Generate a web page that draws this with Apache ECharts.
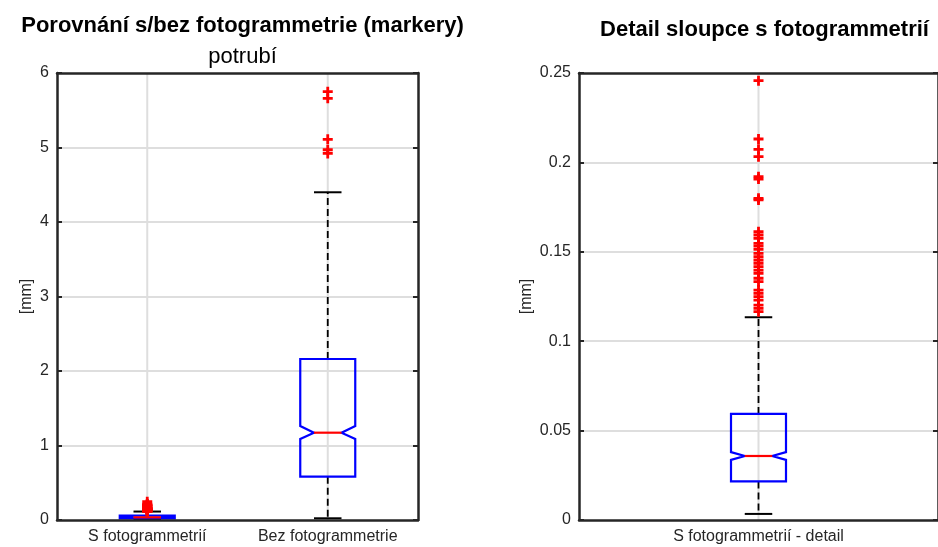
<!DOCTYPE html>
<html>
<head>
<meta charset="utf-8">
<script src="https://cdn.jsdelivr.net/npm/echarts@6/dist/echarts.min.js"></script>
<style>html,body{margin:0;padding:0;background:#fff;}#c{width:938px;height:547px;}</style>
</head>
<body>
<div id="c"></div>
<script>
// ---- data ----
const catsLeft = ['S fotogrammetrií', 'Bez fotogrammetrie'];
const catsRight = ['S fotogrammetrií - detail'];
const leftTicks = [0, 6, 1];          // min, max, interval
const rightTicks = [0, 0.25, 0.05];
// [lowerWhisker, Q1, notchLow, median, notchHigh, Q3, upperWhisker]
const sStats = [0.0034, 0.0216, 0.0336, 0.0358, 0.0380, 0.0593, 0.1134];
const bezStats = [0.023, 0.581, 1.087, 1.172, 1.262, 2.161, 4.399];
const sOutliers = [0.2457, 0.2131, 0.2073, 0.2032, 0.1920, 0.1907, 0.1799, 0.1790,
  0.1612, 0.1594, 0.1575, 0.1547, 0.1532, 0.1514, 0.1491, 0.1473, 0.1454, 0.1436,
  0.1417, 0.1398, 0.1380, 0.1352, 0.1333, 0.1286, 0.1268, 0.1249, 0.1230, 0.1202,
  0.1184, 0.1165];
const bezOutliers = [5.75, 5.66, 5.11, 4.97, 4.92];

// ---- styles ----
const FONT = "'Liberation Sans', Arial, Helvetica, sans-serif";
const DARK = '#262626';
const GRIDC = '#dedede';
const HALF = 27.5;
const PLUS = 'path://M3.6,0H6.4V3.6H10V6.4H6.4V10H3.6V6.4H0V3.6H3.6Z';

function renderBox(params, api) {
  const ci = api.value(0);
  const v = [1,2,3,4,5,6,7].map(i => api.value(i));
  const p = val => api.coord([ci, val]);
  const cx = p(v[3])[0];
  const y = v.map(val => p(val)[1]);
  const cs = params.coordSys;
  const h = HALF;
  const dash = {stroke: '#000', lineWidth: 1.8, lineDash: [7, 4], fill: null};
  const solid = {stroke: '#000', lineWidth: 2, fill: null};
  return {
    type: 'group',
    children: [
      {type: 'line', shape: {x1: cx, y1: cs.y, x2: cx, y2: cs.y + cs.height}, style: {stroke: GRIDC, lineWidth: 2}},
      {type: 'line', shape: {x1: cx, y1: y[5], x2: cx, y2: y[6]}, style: dash},
      {type: 'line', shape: {x1: cx, y1: y[1], x2: cx, y2: y[0]}, style: dash},
      {type: 'line', shape: {x1: cx - h/2, y1: y[6], x2: cx + h/2, y2: y[6]}, style: solid},
      {type: 'line', shape: {x1: cx - h/2, y1: y[0], x2: cx + h/2, y2: y[0]}, style: solid},
      {type: 'polygon', shape: {points: [
        [cx - h, y[1]], [cx - h, y[2]], [cx - h/2, y[3]], [cx - h, y[4]], [cx - h, y[5]],
        [cx + h, y[5]], [cx + h, y[4]], [cx + h/2, y[3]], [cx + h, y[2]], [cx + h, y[1]]
      ]}, style: {stroke: '#0000ff', lineWidth: 2.2, fill: null}},
      {type: 'line', shape: {x1: cx - h/2, y1: y[3], x2: cx + h/2, y2: y[3]}, style: {stroke: '#ff0000', lineWidth: 2.2}}
    ]
  };
}

function xAxes(cats, gi) {
  return [
    {type: 'category', gridIndex: gi, data: cats, position: 'bottom', z: 3,
     axisLine: {onZero: false, lineStyle: {color: DARK, width: 2.5}},
     axisTick: {inside: true, alignWithLabel: true, length: 5, lineStyle: {color: DARK, width: 2}},
     axisLabel: {interval: 0, color: DARK, fontFamily: FONT, fontSize: 16, margin: 9},
     splitLine: {show: false}},
    {type: 'category', gridIndex: gi, data: cats, position: 'top', z: 3,
     axisLine: {onZero: false, lineStyle: {color: DARK, width: 2.5}},
     axisTick: {inside: true, alignWithLabel: true, length: 5, lineStyle: {color: DARK, width: 2}},
     axisLabel: {show: false}, splitLine: {show: false}}
  ];
}
function yAxes(t, gi, gap) {
  return [
    {type: 'value', gridIndex: gi, min: t[0], max: t[1], interval: t[2], position: 'left', z: 1,
     name: '[mm]', nameLocation: 'middle', nameGap: gap,
     nameTextStyle: {color: DARK, fontFamily: FONT, fontSize: 16},
     axisLine: {show: true, onZero: false, lineStyle: {color: DARK, width: 2.5}},
     axisTick: {show: true, inside: true, length: 5, lineStyle: {color: DARK, width: 2}},
     axisLabel: {color: DARK, fontFamily: FONT, fontSize: 16, margin: 8},
     splitLine: {show: true, showMinLine: false, showMaxLine: false, lineStyle: {color: GRIDC, width: 2}}},
    {type: 'value', gridIndex: gi, min: t[0], max: t[1], interval: t[2], position: 'right', z: 3,
     axisLine: {show: true, onZero: false, lineStyle: {color: DARK, width: 2.5}},
     axisTick: {show: true, inside: true, length: 5, lineStyle: {color: DARK, width: 2}},
     axisLabel: {show: false}, splitLine: {show: false}}
  ];
}

const chart = echarts.init(document.getElementById('c'), null, {renderer: 'canvas'});
chart.setOption({
  animation: false,
  backgroundColor: '#fff',
  title: [
    {text: 'Porovnání s/bez fotogrammetrie (markery)', left: 237.5, top: 10, textAlign: 'center',
     textStyle: {fontFamily: FONT, fontSize: 22, fontWeight: 'bold', color: '#000'}},
    {text: 'potrubí', left: 237.5, top: 41, textAlign: 'center',
     textStyle: {fontFamily: FONT, fontSize: 22, fontWeight: 'normal', color: '#000'}},
    {text: 'Detail sloupce s fotogrammetrií', left: 759.5, top: 14, textAlign: 'center',
     textStyle: {fontFamily: FONT, fontSize: 22, fontWeight: 'bold', color: '#000'}}
  ],
  grid: [
    {left: 57, top: 73, width: 361, height: 447, show: false},
    {left: 579, top: 73, width: 361, height: 447, show: false}
  ],
  xAxis: [...xAxes(catsLeft, 0), ...xAxes(catsRight, 1)],
  yAxis: [...yAxes(leftTicks, 0, 22), ...yAxes(rightTicks, 1, 44)],
  series: [
    {type: 'custom', xAxisIndex: 0, yAxisIndex: 0, renderItem: renderBox, z: 2,
     encode: {x: 0, y: [1,2,3,4,5,6,7]},
     data: [[0, ...sStats], [1, ...bezStats]]},
    {type: 'scatter', xAxisIndex: 0, yAxisIndex: 0, symbol: PLUS, symbolSize: 10, z: 2,
     itemStyle: {color: '#ff0000', opacity: 1},
     data: [...sOutliers.map(v => [0, v]), ...bezOutliers.map(v => [1, v])]},
    {type: 'custom', xAxisIndex: 2, yAxisIndex: 2, renderItem: renderBox, z: 2,
     encode: {x: 0, y: [1,2,3,4,5,6,7]},
     data: [[0, ...sStats]]},
    {type: 'scatter', xAxisIndex: 2, yAxisIndex: 2, symbol: PLUS, symbolSize: 10, z: 2,
     itemStyle: {color: '#ff0000', opacity: 1},
     data: sOutliers.map(v => [0, v])}
  ]
});
</script>
</body>
</html>
